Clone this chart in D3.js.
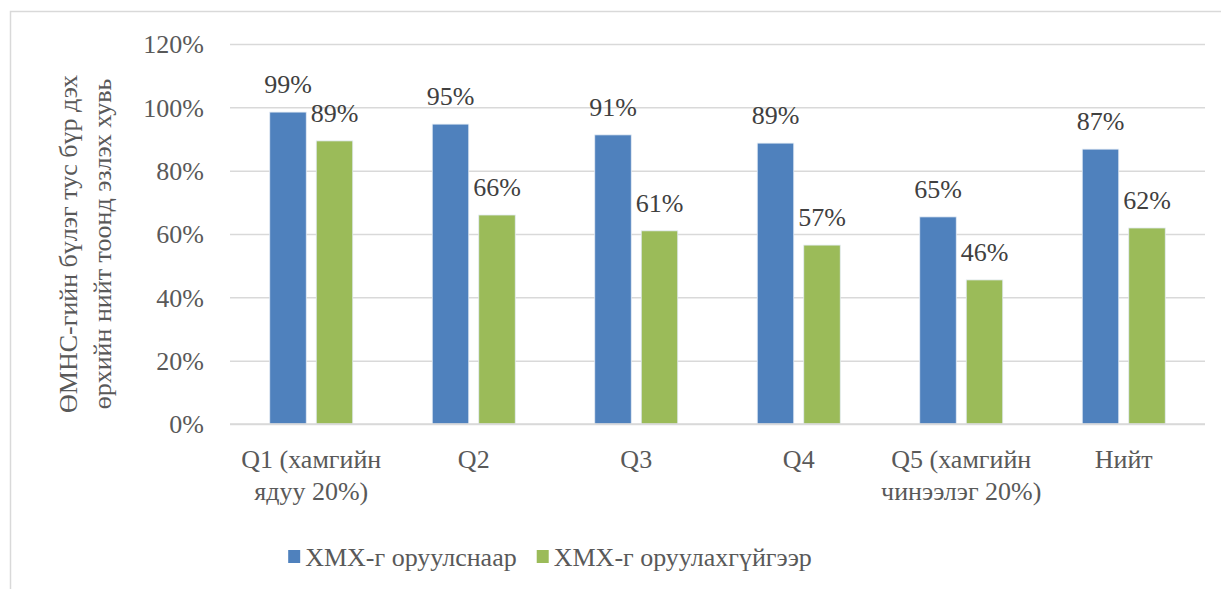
<!DOCTYPE html>
<html>
<head>
<meta charset="utf-8">
<script src="https://cdn.jsdelivr.net/npm/d3@7"></script>
<style>
  body { margin: 0; background: #fff; }
</style>
</head>
<body>
<svg id="chart" font-family="Liberation Serif"></svg>
<script>
// data
const categories = ["Q1 (хамгийн|ядуу 20%)", "Q2", "Q3", "Q4", "Q5 (хамгийн|чинээлэг 20%)", "Нийт"];
const seriesNames = ["ХМХ-г оруулснаар", "ХМХ-г оруулахгүйгээр"];
const withXmx = [0.985, 0.947, 0.913, 0.887, 0.654, 0.868];
const withoutXmx = [0.894, 0.660, 0.610, 0.565, 0.455, 0.619];
const valueLabels = [
  ["99%", "95%", "91%", "89%", "65%", "87%"],
  ["89%", "66%", "61%", "57%", "46%", "62%"],
];
const yTicks = [0, 0.2, 0.4, 0.6, 0.8, 1.0, 1.2];
const yTitle = ["ӨМНС-гийн бүлэг тус бүр дэх", "өрхийн нийт тоонд эзлэх хувь"];

const width = 1221;
const height = 589;
const colors = ["#4f81bd", "#9bbb59"];
const seriesValues = [withXmx, withoutXmx];
const font = "Liberation Serif";
const fs = 26;

let svg = d3.select("#chart").attr("width", width).attr("height", height);

// outer frame
svg
  .append("rect")
  .attr("x", 10.5)
  .attr("y", 11.5)
  .attr("width", 1230)
  .attr("height", 600)
  .style("fill", "none")
  .style("stroke", "#d9d9d9")
  .style("stroke-width", 1.5);

let plot = { left: 230, right: 1205, top: 44, bottom: 424 };

let y = d3.scaleLinear().domain([0, 1.2]).range([plot.bottom, plot.top]);

let x0 = d3
  .scaleBand()
  .domain(categories)
  .range([plot.left, plot.right])
  .padding(0);

let x1 = d3
  .scaleBand()
  .domain(seriesNames)
  .range([39.75, 122.75])
  .paddingInner(0.215)
  .paddingOuter(0);

// gridlines
let yAxis = d3
  .axisLeft(y)
  .tickValues(yTicks)
  .tickSize(-(plot.right - plot.left))
  .tickFormat(d3.format(".0%"))
  .tickPadding(26);

let yg = svg
  .append("g")
  .attr("transform", `translate(${plot.left},0)`)
  .call(yAxis)
  .attr("font-family", font)
  .attr("font-size", fs);
yg.select(".domain").remove();
yg.selectAll(".tick line").style("stroke", "#d9d9d9").style("stroke-width", 1.5);
yg.selectAll(".tick text")
  .attr("font-family", font)
  .attr("fill", "#595959")
  .attr("dy", "0.34em");

// bars
let groups = svg
  .append("g")
  .selectAll("g")
  .data(categories)
  .join("g")
  .attr("transform", (d) => `translate(${x0(d)},0)`);

seriesNames.forEach((s, si) => {
  groups
    .append("rect")
    .attr("x", x1(s))
    .attr("width", x1.bandwidth())
    .attr("y", (d, i) => y(seriesValues[si][i]))
    .attr("height", (d, i) => y(0) - y(seriesValues[si][i]))
    .style("fill", colors[si])
    .style("stroke", "#e4ecf5")
    .style("stroke-width", 0.8);

  groups
    .append("text")
    .attr("x", x1(s) + x1.bandwidth() / 2)
    .attr("y", (d, i) => y(seriesValues[si][i]) - 19)
    .attr("text-anchor", "middle")
    .attr("font-family", font)
    .attr("font-size", fs)
    .attr("fill", "#404040")
    .text((d, i) => valueLabels[si][i]);
});

// baseline
svg
  .append("line")
  .attr("x1", plot.left)
  .attr("x2", plot.right)
  .attr("y1", y(0))
  .attr("y2", y(0))
  .style("stroke", "#d9d9d9")
  .style("stroke-width", 1.5);

// category labels
groups.each(function (d) {
  let lines = d.split("|");
  let t = d3
    .select(this)
    .append("text")
    .attr("text-anchor", "middle")
    .attr("font-family", font)
    .attr("font-size", fs)
    .attr("fill", "#595959");
  lines.forEach((l, li) => {
    t.append("tspan")
      .attr("x", x0.bandwidth() / 2)
      .attr("y", 468 + li * 32)
      .text(l);
  });
});

// y title
let title = svg
  .append("text")
  .attr("transform", "translate(0,244) rotate(-90)")
  .attr("text-anchor", "middle")
  .attr("font-family", font)
  .attr("font-size", fs)
  .attr("fill", "#595959");
yTitle.forEach((l, li) => {
  title
    .append("tspan")
    .attr("x", 0)
    .attr("y", 77 + li * 34)
    .text(l);
});

// legend, laid out from the measured text widths and centred like the original
let legend = svg.append("g");
let lx = 0;
seriesNames.forEach((s, si) => {
  let lg = legend.append("g").attr("transform", `translate(${lx},0)`);
  lg.append("rect")
    .attr("width", 12)
    .attr("height", 13)
    .style("fill", colors[si]);
  let t = lg
    .append("text")
    .attr("x", 17)
    .attr("y", 16)
    .attr("font-family", font)
    .attr("font-size", fs)
    .attr("fill", "#595959")
    .text(s);
  lx += 17 + t.node().getComputedTextLength() + 20;
});
let legendWidth = lx - 20;
legend.attr("transform", `translate(${550 - legendWidth / 2},550)`);
</script>
</body>
</html>
